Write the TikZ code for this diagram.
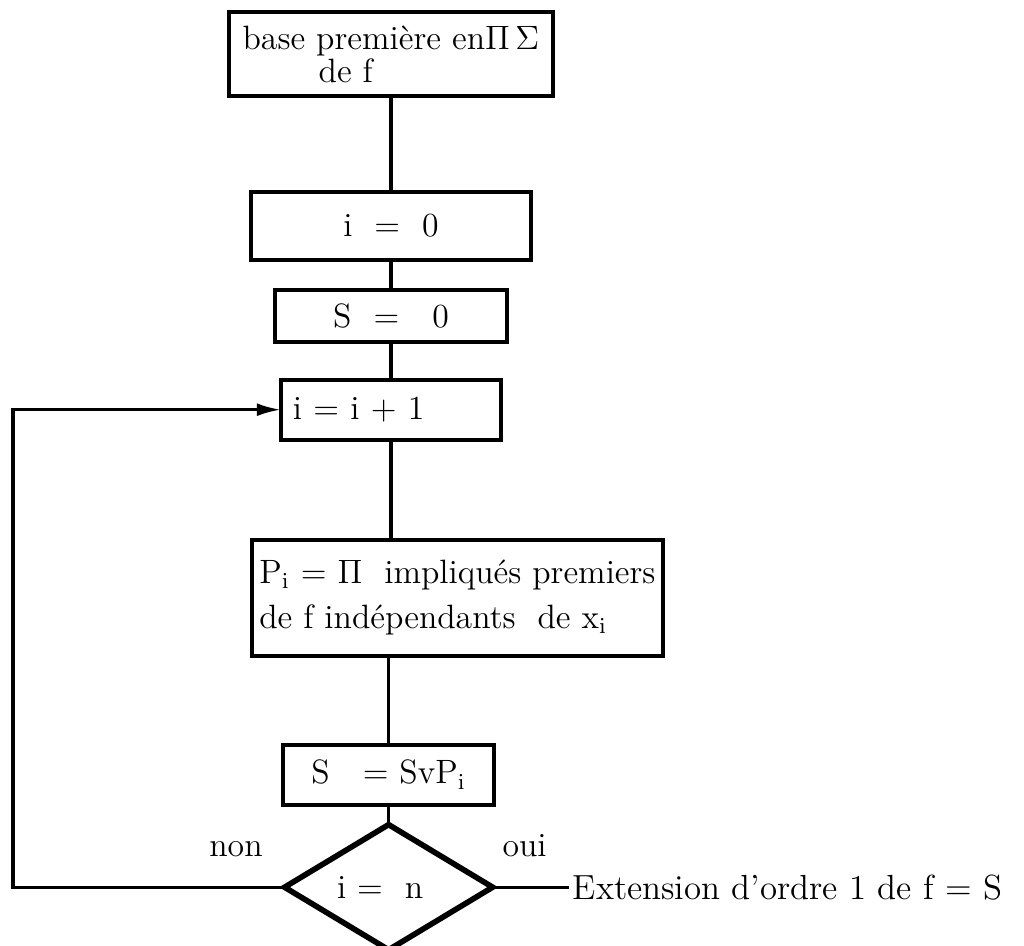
\documentclass[tikz,border=0pt]{standalone}
\usepackage{tikz}
\usetikzlibrary{arrows.meta,positioning,shapes.geometric}

\begin{document}
\begin{tikzpicture}[
  x=0.0125cm,y=-0.0125cm,
  node distance=1cm,
  box/.style={draw,line width=1.4pt,inner sep=0pt,inner xsep=4pt,outer sep=0pt,font=\large},
  cond/.style={diamond,draw,line width=2pt,inner sep=0pt,outer sep=0pt,minimum width=2.6cm,minimum height=1.5cm,font=\large},
  link/.style={line width=1.1pt},
  arrow/.style={-{Latex[length=3mm,width=1.6mm]},line width=1.1pt},
  lbl/.style={font=\large}
]
\useasboundingbox (0,0) rectangle (1024,946);
\node[box,minimum width=4.04cm,minimum height=1.06cm,align=left,font=\fontsize{12}{9.5}\selectfont] (base) at (391,54) {base première en$\Pi\,\Sigma$\\\hspace*{0.95cm}de f};
\node[box,minimum width=3.51cm,minimum height=0.84cm,below=1.2cm of base] (iinit) {i \ = \ 0};
\node[box,minimum width=2.91cm,minimum height=0.65cm,below=0.375cm of iinit] (sinit) {S \ = \ \ 0};
\node[box,minimum width=2.75cm,minimum height=0.75cm,text width=2.45cm,align=left,below=0.475cm of sinit] (incr) {i = i + 1};
\node[box,minimum width=5.11cm,minimum height=1.45cm,inner xsep=2.5pt,align=left,below=1.25cm of incr,xshift=0.83cm] (prim) {P$_{\mathrm{i}}$ = $\Pi$ \ impliqués premiers\\[2pt]de f indépendants \ de x$_{\mathrm{i}}$};
\node[box,minimum width=2.64cm,minimum height=0.75cm,below=1.11cm of prim,xshift=-0.86cm] (svp) {S \ \ = SvP$_{\mathrm{i}}$};
\node[cond,below=0.25cm of svp] (test) {i = \ n\hspace*{6pt}};
\coordinate (back) at (13,0);
\node[lbl,anchor=west,right=0.96cm of test.east,inner sep=1pt,font=\fontsize{12.4}{15}\selectfont] (ext) {Extension d'ordre 1 de f = S};
\node[lbl,above left=0.25cm and 0.15cm of test.west] (non) {non};
\node[lbl,above right=0.25cm and 0cm of test.east] (oui) {oui};
\draw[link] (base) -- (iinit);
\draw[link] (iinit) -- (sinit);
\draw[link] (sinit) -- (incr);
\draw[link] (incr.south) -- (incr.south |- prim.north);
\draw[link] (svp.north |- prim.south) -- (svp.north);
\draw[link] (svp) -- (test);
\draw[link] (test.east) -- (ext.west);
\draw[arrow] (test.west) -- (test.west -| back) |- (incr.west);
\end{tikzpicture}
\end{document}
